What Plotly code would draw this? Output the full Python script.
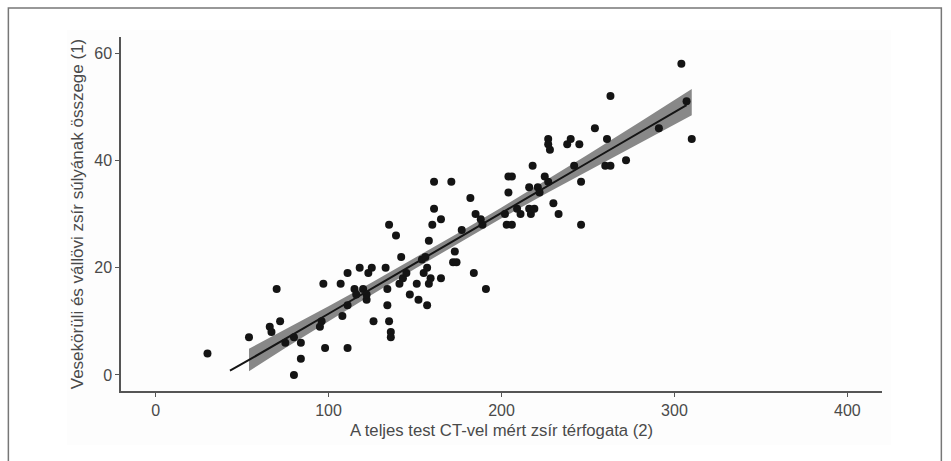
import plotly.graph_objects as go

# Scatter data (x: whole-body CT fat volume, y: sum of perirenal + shoulder-girdle fat weight)
x_vals = [30, 54, 66, 67, 70, 72, 75, 80, 80, 84, 84, 95, 96, 97, 98, 107, 108, 111, 111, 111,
          115, 116, 118, 120, 122, 122, 123, 125, 126, 133, 134, 134, 135, 135, 136, 136, 139, 142,
          141, 143, 145, 147, 151, 152, 154, 156, 155, 157, 157, 158, 158, 159, 161, 161, 160, 165,
          165, 171, 173, 172, 174, 177, 182, 185, 184, 188, 189, 191, 204, 204, 202, 203, 206, 206,
          209, 211, 216, 216, 217, 218, 219, 221, 222, 225, 227, 227, 227, 228, 230, 233, 238, 240,
          242, 245, 246, 246, 254, 260, 261, 263, 263, 272, 291, 304, 307, 310]
y_vals = [4, 7, 9, 8, 16, 10, 6, 7, 0, 6, 3, 9, 10, 17, 5, 17, 11, 19, 5, 13,
          16, 15, 20, 16, 14, 15, 19, 20, 10, 20, 16, 13, 28, 10, 8, 7, 26, 22,
          17, 18, 19, 15, 17, 14, 21.5, 22, 19, 20, 13, 25, 17, 18, 36, 31, 28, 29,
          18, 36, 23, 21, 21, 27, 33, 30, 19, 29, 28, 16, 37, 34, 30, 28, 37, 28,
          31, 30, 35, 31, 30, 39, 31, 35, 34, 37, 36, 44, 43, 42, 32, 30, 43, 44,
          39, 43, 36, 28, 46, 39, 44, 39, 52, 40, 46, 58, 51, 44]

# Regression line and confidence band
fit_x = [43, 54, 100, 150, 200, 250, 307]
fit_y = [0.8, 2.8, 11.4, 20.8, 30.2, 39.6, 50.3]
band_x = [54, 75, 100, 125, 150, 175, 200, 225, 250, 280, 310]
band_lo = [0.7, 5.0, 10.0, 14.95, 19.8, 24.55, 29.2, 33.7, 38.1, 43.25, 48.4]
band_hi = [4.9, 8.5, 12.8, 17.25, 21.8, 26.45, 31.2, 36.1, 41.1, 47.15, 53.3]

x_ticks = [0, 100, 200, 300, 400]
y_ticks = [0, 20, 40, 60]
x_title = "A teljes test CT-vel mért zsír térfogata (2)"
y_title = "Vesekörüli és vállövi zsír súlyának összege (1)"

fig = go.Figure()
fig.add_trace(go.Scatter(
    x=band_x + band_x[::-1], y=band_hi + band_lo[::-1],
    fill="toself", fillcolor="#888888", line=dict(width=0),
    mode="lines", hoverinfo="skip", showlegend=False))
fig.add_trace(go.Scatter(
    x=x_vals, y=y_vals, mode="markers",
    marker=dict(color="#141414", size=8, line=dict(width=0)),
    showlegend=False))
fig.add_trace(go.Scatter(
    x=fit_x, y=fit_y, mode="lines",
    line=dict(color="#151515", width=2, shape="spline"),
    showlegend=False))

axis_common = dict(showgrid=False, zeroline=False, showline=True, linecolor="#555555",
                   linewidth=1.5, ticks="outside", ticklen=4, tickcolor="#555555",
                   tickwidth=1.2)
fig.update_xaxes(range=[-20, 420], tickvals=x_ticks, **axis_common,
                 tickfont=dict(family="Liberation Sans, Arial", size=16, color="#4a4a4a"),
                 title=dict(text=x_title, standoff=6,
                            font=dict(family="Liberation Sans, Arial", size=16.7, color="#4a4a4a")))
fig.update_yaxes(range=[-3, 63], tickvals=y_ticks, **axis_common,
                 tickfont=dict(family="Liberation Sans, Arial", size=16, color="#4a4a4a"),
                 title=dict(text=y_title, standoff=6,
                            font=dict(family="Liberation Sans, Arial", size=17, color="#4a4a4a")))

fig.update_layout(
    width=951, height=461,
    margin=dict(l=121, r=69, t=37, b=70),
    paper_bgcolor="white", plot_bgcolor="rgba(0,0,0,0)",
    shapes=[
        dict(type="rect", xref="paper", yref="paper", x0=-0.0709, x1=1.0118, y0=-0.1525, y1=1.0198,
             fillcolor="#fdfdfd", line=dict(width=0), layer="below"),
        dict(type="path", xref="paper", yref="paper",
             path="M -0.148 -0.25 L -0.148 1.082 L 1.078 1.082 L 1.078 -0.25",
             line=dict(color="#777777", width=1.5)),
    ],
)

fig.write_html("out.html")
